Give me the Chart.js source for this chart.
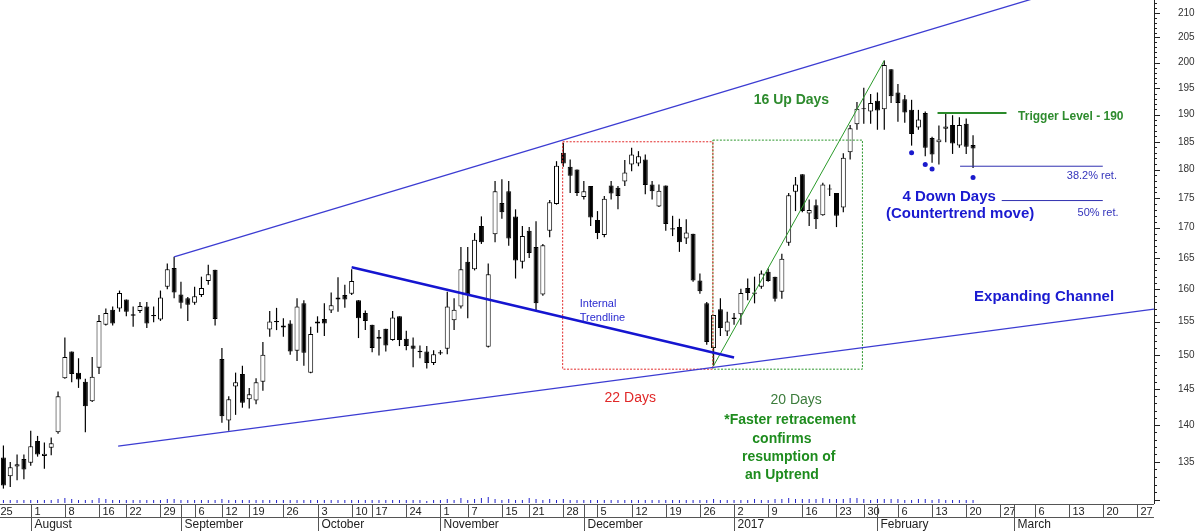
<!DOCTYPE html>
<html>
<head>
<meta charset="utf-8">
<title>Expanding Channel</title>
<script src="https://cdn.jsdelivr.net/npm/chart.js@4.4.1/dist/chart.umd.min.js"></script>
<style>
  html, body { margin: 0; padding: 0; background: #fff; }
  #wrap { width: 1200px; height: 531px; position: relative; }
</style>
</head>
<body>
<div id="wrap"><canvas id="priceChart"></canvas></div>
<script>
// daily candles, 25 Jul 2016 -> 20 Feb 2017 (index = trading day)
const openP = [135.6,133.1,134.4,135.4,134.9,137.8,135.8,136.9,139.0,146.6,
  150.5,147.4,146.1,143.3,148.1,154.5,156.8,157.0,158.4,155.9,
  156.6,157.3,155.8,155.3,160.4,163.4,159.2,158.6,157.9,159.1,
  161.3,163.1,149.4,140.6,145.4,147.2,143.6,143.4,146.1,153.8,
  154.9,154.4,154.7,150.6,157.8,147.4,155.0,155.4,156.7,158.4,
  159.1,159.3,158.3,156.3,154.5,152.4,153.9,152.2,155.8,152.4,
  151.4,150.4,150.5,148.8,150.2,150.9,155.2,157.3,164.4,163.2,
  170.3,151.2,168.9,174.2,176.2,171.9,164.4,169.5,166.8,159.2,
  169.5,174.0,183.0,180.5,180.0,175.2,177.1,171.3,168.8,177.2,
  176.8,177.9,180.9,181.1,181.8,177.4,173.6,177.2,169.9,170.1,
  168.2,169.0,161.4,157.8,151.0,156.9,153.5,155.4,156.1,160.2,
  159.3,160.4,162.8,162.0,159.6,167.5,176.1,179.2,172.4,173.8,
  172.1,176.5,175.9,173.4,183.1,188.2,191.0,190.6,192.6,191.0,
  198.7,194.2,192.9,190.9,187.6,190.3,185.7,184.9,187.4,188.1,
  184.3,188.3,184.4];
const highP = [137.2,135.0,136.0,136.0,139.2,138.5,137.6,138.3,144.7,152.6,
  150.5,149.5,146.5,149.7,156.0,157.0,157.3,159.8,158.4,157.3,
  158.0,158.0,157.3,159.8,164.1,165.2,161.2,158.8,160.4,162.0,
  163.9,163.1,151.0,144.0,147.4,148.4,145.2,146.6,151.9,156.6,
  157.1,155.5,155.2,158.6,158.3,154.2,155.8,157.8,159.5,161.9,
  160.7,163.2,158.3,156.7,154.5,153.7,153.9,156.6,155.8,153.6,
  152.6,151.4,151.3,150.7,150.7,159.6,158.6,166.8,166.8,169.1,
  171.9,164.1,178.0,178.3,178.0,173.1,170.3,170.1,171.1,167.3,
  174.7,181.5,184.8,181.8,180.0,178.0,177.1,172.8,175.4,178.0,
  177.1,181.7,183.9,183.3,182.7,178.0,177.4,177.2,172.0,171.5,
  171.4,169.0,162.5,158.0,156.0,158.6,156.5,156.3,160.1,161.7,
  162.0,163.0,163.3,162.0,165.7,175.9,178.7,179.2,174.8,174.8,
  177.7,177.4,175.9,182.9,188.1,192.4,195.1,193.9,194.2,200.4,
  198.7,195.8,193.7,192.8,190.9,190.6,185.9,188.0,190.3,189.9,
  189.5,189.3,186.2];
const lowP = [131.5,131.7,132.6,132.7,134.5,135.7,134.1,135.9,138.8,146.5,
  146.0,145.2,139.0,143.2,147.2,154.4,154.4,156.5,155.8,154.2,
  156.3,154.0,154.9,155.1,160.0,158.6,157.0,155.1,157.6,158.8,
  160.7,154.4,140.3,139.2,141.4,142.4,142.3,142.9,144.8,152.7,
  153.7,152.7,150.0,149.1,148.4,147.3,153.3,152.8,156.3,156.5,
  157.1,159.1,152.5,153.7,150.4,149.9,150.5,152.1,151.3,150.7,
  148.2,149.5,148.0,148.5,150.0,150.1,153.7,157.0,155.5,163.0,
  167.3,151.1,167.6,171.5,167.0,161.7,163.3,165.0,156.6,159.0,
  168.4,173.9,180.5,175.9,175.4,174.8,170.3,168.1,168.4,174.8,
  173.1,177.1,179.7,180.6,175.7,174.8,173.5,169.5,168.6,166.0,
  167.3,161.2,159.3,151.5,148.4,152.8,152.8,154.5,154.5,158.3,
  157.8,160.1,161.2,158.1,158.5,167.0,172.8,172.6,170.3,169.8,
  172.0,175.4,170.1,172.6,181.8,187.2,188.3,188.3,187.2,187.2,
  192.2,188.7,188.5,184.3,187.2,182.4,181.2,180.9,184.9,182.8,
  183.9,182.8,180.3];
const closeP = [131.9,134.3,134.7,134.0,137.1,136.0,136.1,137.5,144.0,149.7,
  147.2,146.4,142.6,146.8,155.1,156.3,154.7,159.4,156.5,156.1,
  157.4,154.7,156.0,158.7,163.2,159.5,157.9,157.6,158.9,160.2,
  162.4,155.4,141.2,143.6,146.0,143.1,144.3,146.0,150.0,155.0,
  155.1,154.1,150.5,157.3,150.3,153.1,154.7,154.7,157.5,158.7,
  158.4,161.3,155.5,155.1,151.0,152.7,151.4,155.6,152.2,151.3,
  150.9,150.6,148.8,150.1,150.4,157.3,156.8,163.2,159.2,168.0,
  167.6,162.4,176.2,172.6,168.2,164.6,168.6,165.8,157.8,167.1,
  174.3,180.7,181.1,178.9,175.9,176.2,171.7,169.1,174.9,175.8,
  175.4,179.5,182.7,182.4,177.3,176.2,176.3,170.6,169.7,167.6,
  169.2,161.4,159.7,151.9,156.0,154.0,155.0,155.6,159.4,159.4,
  159.5,162.5,161.3,158.5,164.9,175.5,177.4,172.8,173.0,171.4,
  177.4,176.7,172.0,182.1,187.5,191.1,191.2,192.2,190.8,199.5,
  193.5,192.2,190.4,186.4,189.1,183.9,182.7,185.4,187.8,184.7,
  188.1,184.1,183.8];
// little volume ticks along the bottom
const vol = [3,3,3,3,3,3,3,3,4,5, 4,3,3,3,5,4,3,3,3,3, 3,3,3,3,4,4,3,3,3,3,
  3,3,4,3,3,3,3,3,3,3, 3,3,3,3,3,3,3,3,3,3, 3,3,3,3,3,3,3,3,3,3,
  3,3,2,3,3,4,3,5,3,4, 5,6,4,3,4,3,3,5,4,3, 4,3,4,3,3,3,3,3,3,3,
  3,3,3,3,3,3,3,3,3,3, 3,3,3,3,4,3,3,3,3,3, 4,3,3,4,4,5,4,4,4,4,
  5,4,4,4,5,5,4,3,4,4, 4,4,3,3,4,4,3,4,3,3, 3,3,3];

// date axis: [trading day index, label]
const weekStarts = [[0,'25'],[5,'1'],[10,'8'],[15,'16'],[19,'22'],[24,'29'],[29,'6'],[33,'12'],
  [37,'19'],[42,'26'],[47,'3'],[52,'10'],[55,'17'],[60,'24'],[65,'1'],[69,'7'],[74,'15'],
  [78,'21'],[83,'28'],[88,'5'],[93,'12'],[98,'19'],[103,'26'],[108,'2'],[113,'9'],[118,'16'],
  [123,'23'],[127,'30'],[132,'6'],[137,'13'],[142,'20'],[147,'27'],[152,'6'],[157,'13'],
  [162,'20'],[167,'27']];
const monthStarts = [[5,'August'],[27,'September'],[47,'October'],[65,'November'],
  [86,'December'],[108,'2017'],[129,'February'],[149,'March']];
const priceTicks = [135,140,145,150,155,160,165,170,175,180,185,190,195,200,205,210];

// drawn studies: [day index, price]
const upperChannel = [[25, 165.2], [168, 220.5]];
const lowerChannel = [[16.8, 137.1], [168.5, 156.9]];
const internalTrend = [[51, 163.5], [107, 149.6]];
const upLeg = [[104, 148.4], [129, 200.4]];
const redBox = [[81.9, 185.0], [103.9, 147.9]];
const greenBox = [[103.9, 185.3], [125.8, 147.9]];
const triggerLine = [[136.8, 190.3], [146.9, 190.3]];
const ret382 = [[140.1, 180.6], [161, 180.6]];
const ret50 = [[146.2, 174.6], [161, 174.6]];
const downDots = [[133, 183.0], [135, 180.9], [136, 180.1], [142, 178.6]];

const notes = [
  { text: '16 Up Days', at: [115.4, 192.8], font: 'bold 14px', color: '#2e8b2e' },
  { text: 'Trigger Level - 190', at: [148.6, 189.6], font: 'bold 12px', color: '#2e8b2e', align: 'left' },
  { text: '38.2% ret.', at: [159.4, 178.9], font: '11px', color: '#3333bb' },
  { text: '50% ret.', at: [160.3, 172.5], font: '11px', color: '#3333bb' },
  { text: '4 Down Days', at: [138.5, 175.2], font: 'bold 15px', color: '#1a1ad0' },
  { text: '(Countertrend move)', at: [140.1, 172.3], font: 'bold 15px', color: '#1a1ad0' },
  { text: 'Expanding Channel', at: [152.4, 158.8], font: 'bold 15px', color: '#1a1ad0' },
  { text: 'Internal', at: [84.4, 157.7], font: '11px', color: '#2a2ad0', align: 'left' },
  { text: 'Trendline', at: [84.4, 155.5], font: '11px', color: '#2a2ad0', align: 'left' },
  { text: '22 Days', at: [91.8, 143.8], font: '14px', color: '#e02828' },
  { text: '20 Days', at: [116.1, 143.5], font: '14px', color: '#3c7c3c' },
  { text: '*Faster retracement', at: [115.2, 140.7], font: 'bold 14px', color: '#1e8c1e' },
  { text: 'confirms', at: [114.0, 138.1], font: 'bold 14px', color: '#1e8c1e' },
  { text: 'resumption of', at: [115.0, 135.6], font: 'bold 14px', color: '#1e8c1e' },
  { text: 'an Uptrend', at: [114.0, 133.3], font: 'bold 14px', color: '#1e8c1e' }
];

const FONT = 'Arial, "Liberation Sans", sans-serif';
Chart.defaults.font.family = FONT;

const days = openP.map((_, i) => i);
const pts = arr => arr.map(p => ({ x: p[0], y: p[1] }));
const box = b => [[b[0][0], b[0][1]], [b[1][0], b[0][1]], [b[1][0], b[1][1]], [b[0][0], b[1][1]], [b[0][0], b[0][1]]];
const study = (data, color, width, dash) => ({
  type: 'line', data: pts(data), borderColor: color, borderWidth: width,
  borderDash: dash || [], pointRadius: 0, fill: false, tension: 0, order: 0
});

const decor = {
  id: 'decor',
  afterDraw(chart) {
    const { ctx, chartArea: ca, scales: { x, y } } = chart;
    ctx.save();
    ctx.strokeStyle = '#222';
    ctx.lineWidth = 1;
    const seg = (x1, y1, x2, y2) => { ctx.beginPath(); ctx.moveTo(x1, y1); ctx.lineTo(x2, y2); ctx.stroke(); };
    // price axis ticks, one per unit
    for (let v = 130; v <= 212; v++) {
      const py = Math.round(y.getPixelForValue(v)) + 0.5;
      seg(ca.right, py, ca.right + (v % 5 === 0 ? 6 : 3), py);
    }
    // date rows
    const top = ca.bottom + 1, mid = top + 13, bot = chart.height;
    ctx.strokeStyle = '#555';
    seg(0, top + 0.5, ca.right, top + 0.5);
    seg(0, mid + 0.5, ca.right, mid + 0.5);
    ctx.save();
    ctx.beginPath(); ctx.rect(0, top, ca.right, bot - top); ctx.clip();
    ctx.fillStyle = '#222';
    ctx.textAlign = 'left';
    ctx.textBaseline = 'middle';
    ctx.font = '11px ' + FONT;
    weekStarts.forEach(([i, t]) => {
      const px = Math.round(x.getPixelForValue(i - 1)) + 0.5;
      seg(px, top, px, mid);
      ctx.fillText(t, px + 3, (top + mid) / 2 + 1);
    });
    ctx.font = '12px ' + FONT;
    monthStarts.forEach(([i, t]) => {
      const px = Math.round(x.getPixelForValue(i - 1)) + 0.5;
      seg(px, top, px, bot);
      ctx.fillText(t, px + 3, (mid + bot) / 2 + 1);
    });
    ctx.restore();
    // chart notes
    ctx.textBaseline = 'middle';
    notes.forEach(n => {
      ctx.font = n.font + ' ' + FONT;
      ctx.fillStyle = n.color;
      ctx.textAlign = n.align || 'center';
      ctx.fillText(n.text, x.getPixelForValue(n.at[0]), y.getPixelForValue(n.at[1]));
    });
    ctx.restore();
  }
};

new Chart(document.getElementById('priceChart').getContext('2d'), {
  type: 'bar',
  data: {
    datasets: [
      study(upperChannel, '#3c3cd2', 1.3),
      study(lowerChannel, '#3c3cd2', 1.3),
      study(internalTrend, '#1515d0', 2.5),
      study(upLeg, '#2a9a2a', 1),
      study(box(redBox), '#e22a2a', 1, [2, 1.5]),
      study(box(greenBox), '#2a962a', 1, [2, 1.5]),
      study(triggerLine, '#2a8a2a', 2),
      study(ret382, '#3030b0', 1),
      study(ret50, '#3030b0', 1),
      {
        type: 'scatter', data: pts(downDots), pointRadius: 2.5,
        pointBackgroundColor: '#1a1acc', pointBorderWidth: 0, order: 0
      },
      {
        data: days.map(i => ({ x: i, y: [Math.min(openP[i], closeP[i]), Math.max(openP[i], closeP[i])] })),
        backgroundColor: days.map(i => closeP[i] >= openP[i] ? '#ffffff' : '#000000'),
        borderColor: '#000', borderWidth: 1, borderSkipped: false,
        barThickness: 5, grouped: false, inflateAmount: 0, order: 1
      },
      {
        data: days.map(i => ({ x: i, y: [lowP[i], highP[i]] })),
        backgroundColor: '#000', barThickness: 1.2, grouped: false, inflateAmount: 0, order: 2
      },
      {
        data: vol.map((v, i) => ({ x: i, y: v })), yAxisID: 'yv',
        backgroundColor: '#2222cc', barThickness: 1, grouped: false, inflateAmount: 0, order: 2
      }
    ]
  },
  options: {
    responsive: true,
    maintainAspectRatio: false,
    animation: false,
    layout: { autoPadding: false, padding: { left: 0, right: 0, top: 0, bottom: 28 } },
    plugins: { legend: { display: false }, tooltip: { enabled: false } },
    scales: {
      x: { type: 'linear', display: false, offset: false, bounds: 'data', grace: 0, min: -0.5, max: 168.5 },
      y: {
        type: 'logarithmic', position: 'right', min: 129.65, max: 212.7, bounds: 'data',
        afterBuildTicks: s => { s.ticks = priceTicks.map(v => ({ value: v })); },
        afterFit: s => { s.width = 46; s.paddingTop = 0; s.paddingBottom = 0; },
        grid: { display: false, drawTicks: false },
        border: { display: true, color: '#222' },
        ticks: { autoSkip: false, padding: 24, color: '#333', font: { size: 10 }, callback: v => String(v) }
      },
      yv: { type: 'linear', display: false, min: 0, max: 503 }
    }
  },
  plugins: [decor]
});
</script>
</body>
</html>
